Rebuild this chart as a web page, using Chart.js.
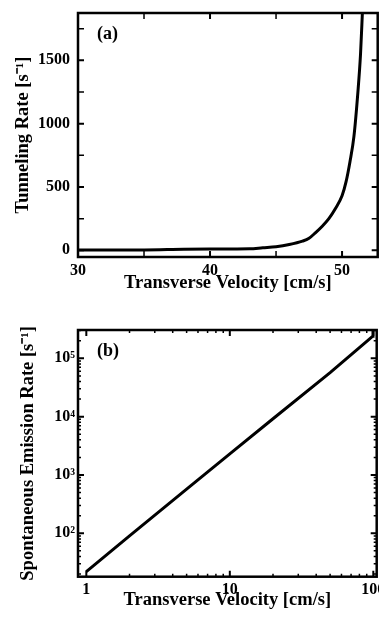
<!DOCTYPE html>
<html>
<head>
<meta charset="utf-8">
<script src="https://cdn.jsdelivr.net/npm/chart.js@4.4.0/dist/chart.umd.min.js"></script>
<style>
html, body { margin: 0; padding: 0; background: #fff; }
body { width: 379px; height: 618px; position: relative; overflow: hidden; }
#wrapA { position: absolute; left: 0; top: 0; width: 379px; height: 300px; }
#wrapB { position: absolute; left: 0; top: 310px; width: 379px; height: 308px; }
</style>
</head>
<body>
<div id="wrapA"><canvas id="chartA"></canvas></div>
<div id="wrapB"><canvas id="chartB"></canvas></div>
<script>
// (a) tunneling rate vs transverse velocity
const velA  = [30, 35, 38, 40, 43, 44, 45, 46, 47, 47.5, 48, 48.5, 49, 49.5, 50, 50.3, 50.6, 50.9, 51.2, 51.4, 51.55];
const rateA = [2, 3, 8, 10, 12, 20, 28, 45, 72, 95, 140, 190, 250, 330, 430, 540, 700, 900, 1250, 1550, 1900];
const xTicksA = [30, 40, 50];
const xMinorA = [35, 45];
const yTicksA = [0, 500, 1000, 1500];
const yMinorA = [250, 750, 1250, 1750];

// (b) spontaneous emission rate vs transverse velocity (log-log)
const velB  = [1, 2, 5, 10, 20, 50, 93, 99, 99.5];
const rateB = [22, 90, 570, 2300, 9200, 57000, 210000, 240000, 320000];
const xTicksB = [1, 10, 100];
const xMinorB = [2, 3, 4, 5, 6, 7, 8, 9, 20, 30, 40, 50, 60, 70, 80, 90];
const yTicksB = [100, 1000, 10000, 100000];
const yMinorB = [20, 30, 40, 50, 60, 70, 80, 90, 200, 300, 400, 500, 600, 700, 800, 900,
                 2000, 3000, 4000, 5000, 6000, 7000, 8000, 9000, 20000, 30000, 40000, 50000,
                 60000, 70000, 80000, 90000, 200000, 300000];
const supers = { 2: '\u00B2', 3: '\u00B3', 4: '\u2074', 5: '\u2075' };

Chart.defaults.font.family = "'Liberation Serif', 'Times New Roman', serif";
Chart.defaults.font.weight = 'bold';
Chart.defaults.color = '#000';

const frameTicks = {
    id: 'frameTicks',
    afterDraw(chart, args, opts) {
        const { ctx, chartArea: a, scales: { x, y } } = chart;
        ctx.save();
        ctx.strokeStyle = '#000';
        const mark = (sc, vals, len) => vals.forEach(v => {
            const p = sc.getPixelForValue(v);
            ctx.beginPath();
            if (sc.isHorizontal()) {
                ctx.moveTo(p, a.bottom); ctx.lineTo(p, a.bottom - len);
                ctx.moveTo(p, a.top); ctx.lineTo(p, a.top + len);
            } else {
                ctx.moveTo(a.left, p); ctx.lineTo(a.left + len, p);
                ctx.moveTo(a.right, p); ctx.lineTo(a.right - len, p);
            }
            ctx.stroke();
        });
        ctx.lineWidth = 2;
        mark(x, opts.xMajor, 6);
        mark(y, opts.yMajor, 6);
        ctx.lineWidth = 1.5;
        mark(x, opts.xMinor, opts.minorLen);
        mark(y, opts.yMinor, opts.minorLen);
        ctx.lineWidth = 2.5;
        ctx.strokeRect(a.left, a.top, a.width, a.height);
        ctx.fillStyle = '#000';
        ctx.font = "bold 18px 'Liberation Serif', serif";
        ctx.textBaseline = 'middle';
        ctx.fillText(opts.label, a.left + 19, a.top + 21);
        ctx.restore();
    }
};

function fixAxis(size, isX) {
    return s => {
        if (isX) s.height = size; else s.width = size;
        s.paddingLeft = 0; s.paddingRight = 0; s.paddingTop = 0; s.paddingBottom = 0;
    };
}

new Chart(document.getElementById('chartA'), {
    type: 'line',
    data: {
        datasets: [{
            data: velA.map((v, i) => ({ x: v, y: rateA[i] })),
            borderColor: '#000',
            borderWidth: 3,
            pointRadius: 0,
            cubicInterpolationMode: 'monotone',
            fill: false
        }]
    },
    options: {
        responsive: true,
        maintainAspectRatio: false,
        animation: false,
        layout: { padding: { top: 13, right: 1.3, left: 0, bottom: 0 } },
        plugins: {
            legend: { display: false },
            tooltip: { enabled: false },
            frameTicks: { xMajor: xTicksA, xMinor: xMinorA, yMajor: yTicksA, yMinor: yMinorA, minorLen: 6, label: '(a)' }
        },
        scales: {
            x: {
                type: 'linear', min: 30, max: 52.7,
                afterBuildTicks: s => { s.ticks = xTicksA.map(v => ({ value: v })); },
                afterFit: fixAxis(43, true),
                grid: { display: false, drawTicks: false },
                border: { display: false },
                ticks: { font: { size: 16 }, padding: 4, maxRotation: 0, autoSkip: false, callback: v => String(v) },
                title: { display: true, text: 'Transverse Velocity [cm/s]', font: { size: 18.5 }, padding: { top: 0, bottom: 5.5 } }
            },
            y: {
                type: 'linear', min: -53, max: 1874,
                afterBuildTicks: s => { s.ticks = yTicksA.map(v => ({ value: v })); },
                afterFit: fixAxis(78, false),
                grid: { display: false, drawTicks: false },
                border: { display: false },
                ticks: { font: { size: 16 }, padding: 8, callback: v => String(v) },
                title: { display: true, text: 'Tunneling Rate [s\u207B\u00B9]', font: { size: 18.5 }, padding: { top: 12, bottom: 0 } }
            }
        }
    },
    plugins: [frameTicks]
});

new Chart(document.getElementById('chartB'), {
    type: 'line',
    data: {
        datasets: [{
            data: velB.map((v, i) => ({ x: v, y: rateB[i] })),
            borderColor: '#000',
            borderWidth: 3,
            pointRadius: 0,
            fill: false
        }]
    },
    options: {
        responsive: true,
        maintainAspectRatio: false,
        animation: false,
        layout: { padding: { top: 20, right: 2.3, left: 0, bottom: 0 } },
        plugins: {
            legend: { display: false },
            tooltip: { enabled: false },
            frameTicks: { xMajor: xTicksB, xMinor: xMinorB, yMajor: yTicksB, yMinor: yMinorB, minorLen: 3, label: '(b)' }
        },
        scales: {
            x: {
                type: 'logarithmic', min: 0.875, max: 105.6,
                afterBuildTicks: s => { s.ticks = xTicksB.map(v => ({ value: v })); },
                afterFit: fixAxis(41.3, true),
                grid: { display: false, drawTicks: false },
                border: { display: false },
                ticks: { font: { size: 16 }, padding: 4, maxRotation: 0, autoSkip: false, callback: v => String(v) },
                title: { display: true, text: 'Transverse Velocity [cm/s]', font: { size: 18.5 }, padding: { top: 0, bottom: 6.5 } }
            },
            y: {
                type: 'logarithmic', min: 18, max: 306000,
                afterBuildTicks: s => { s.ticks = yTicksB.map(v => ({ value: v })); },
                afterFit: fixAxis(78, false),
                grid: { display: false, drawTicks: false },
                border: { display: false },
                ticks: { font: { size: 16 }, padding: 3, callback: v => '10' + supers[Math.round(Math.log10(v))] },
                title: { display: true, text: 'Spontaneous Emission Rate [s\u207B\u00B9]', font: { size: 18.5 }, padding: { top: 17, bottom: 0 } }
            }
        }
    },
    plugins: [frameTicks]
});
</script>
</body>
</html>
